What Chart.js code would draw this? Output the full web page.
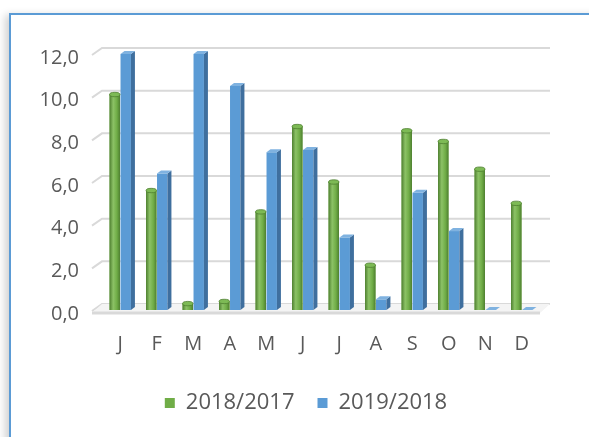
<!DOCTYPE html>
<html>
<head>
<meta charset="utf-8">
<script src="https://cdn.jsdelivr.net/npm/chart.js@4.4.1/dist/chart.umd.min.js"></script>
<style>
  html, body { margin: 0; padding: 0; background: #fff; width: 589px; height: 437px; overflow: hidden; }
  #frame { position: absolute; left: 9px; top: 13px; width: 700px; height: 600px;
           border-left: 2px solid #5B9BD5; border-top: 2px solid #5B9BD5;
           box-shadow: -6px 0 8px -2px rgba(0,0,0,0.18); }
  #wrap { position: absolute; left: 0; top: 0; width: 589px; height: 437px; }
</style>
</head>
<body>
<div id="frame"></div>
<div id="wrap"><canvas id="c" width="589" height="437"></canvas></div>
<script>
const categories = ['J','F','M','A','M','J','J','A','S','O','N','D'];
const series2018_2017 = [10.1, 5.6, 0.3, 0.4, 4.6, 8.6, 6.0, 2.1, 8.4, 7.9, 6.6, 5.0];
const series2019_2018 = [12.0, 6.4, 12.0, 10.5, 7.4, 7.5, 3.4, 0.5, 5.5, 3.7, 0.0, 0.0];
const seriesNames = ['2018/2017', '2019/2018'];
const yTicks = [0, 2, 4, 6, 8, 10, 12];

const GREEN = '#70AD47', GREEN_DARK = '#4E7F30', GREEN_LIGHT = '#8CC266';
const BLUE = '#5B9BD5', BLUE_SIDE = '#3F6F9E', BLUE_TOP = '#7FB2E0';
const GRID = '#D9D9D9';

const walls = {
  id: 'walls',
  beforeDatasetsDraw(chart) {
    const ctx = chart.ctx, a = chart.chartArea, ys = chart.scales.y;
    const back = 6, dx = 10;
    ctx.save();
    ctx.strokeStyle = GRID;
    ctx.lineWidth = 2;
    yTicks.forEach(v => {
      const y = ys.getPixelForValue(v) - back;
      ctx.beginPath();
      ctx.moveTo(a.left - dx, y + back + 1);
      ctx.lineTo(a.left, y);
      ctx.lineTo(a.right + dx, y);
      ctx.stroke();
    });
    const yb = ys.getPixelForValue(0);
    ctx.fillStyle = '#F4F4F4';
    ctx.beginPath();
    ctx.moveTo(a.left - dx, yb + 3);
    ctx.lineTo(a.left, yb - back);
    ctx.lineTo(a.right + dx, yb - back);
    ctx.lineTo(a.right, yb + 3);
    ctx.closePath();
    ctx.fill();
    ctx.lineWidth = 3;
    ctx.beginPath();
    ctx.moveTo(a.left - dx, yb + 3);
    ctx.lineTo(a.right, yb + 3);
    ctx.stroke();
    ctx.restore();
  }
};

const bar3d = {
  id: 'bar3d',
  afterDatasetsDraw(chart) {
    const ctx = chart.ctx;
    const d = 4, dy = 3;
    chart.data.datasets.forEach((ds, di) => {
      const meta = chart.getDatasetMeta(di);
      meta.data.forEach((el) => {
        const w = el.width, xl = el.x - w / 2, xr = el.x + w / 2;
        const top = el.y, base = el.base;
        ctx.save();
        if (di === 1) {
          ctx.fillStyle = BLUE_SIDE;
          ctx.beginPath();
          ctx.moveTo(xr, top); ctx.lineTo(xr + d, top - dy);
          ctx.lineTo(xr + d, base - dy); ctx.lineTo(xr, base);
          ctx.closePath(); ctx.fill();
          ctx.fillStyle = BLUE_TOP;
          ctx.beginPath();
          ctx.moveTo(xl, top); ctx.lineTo(xl + d, top - dy);
          ctx.lineTo(xr + d, top - dy); ctx.lineTo(xr, top);
          ctx.closePath(); ctx.fill();
        } else {
          const g = ctx.createLinearGradient(xl, 0, xr, 0);
          g.addColorStop(0, GREEN_DARK);
          g.addColorStop(0.35, GREEN_LIGHT);
          g.addColorStop(0.7, GREEN);
          g.addColorStop(1, GREEN_DARK);
          ctx.fillStyle = g;
          ctx.fillRect(xl, top, w, base - top);
          ctx.beginPath();
          ctx.ellipse(el.x, top, w / 2, 2.2, 0, 0, Math.PI * 2);
          ctx.fillStyle = '#7DBA55';
          ctx.fill();
          ctx.strokeStyle = GREEN_DARK; ctx.lineWidth = 0.8; ctx.stroke();
        }
        ctx.restore();
      });
    });
  }
};

// place the legend where the reference has it
const legendPlace = {
  id: 'legendPlace',
  beforeDraw(chart) {
    const lg = chart.legend;
    if (!lg) return;
    const h = lg.bottom - lg.top;
    lg.left = 23; lg.right = 589;
    lg.top = 369; lg.bottom = 369 + h;
  }
};

new Chart(document.getElementById('c'), {
  type: 'bar',
  data: {
    labels: categories,
    datasets: [
      { label: seriesNames[0], data: series2018_2017, backgroundColor: GREEN, borderWidth: 0 },
      { label: seriesNames[1], data: series2019_2018, backgroundColor: BLUE, borderWidth: 0 }
    ]
  },
  options: {
    responsive: false,
    animation: false,
    devicePixelRatio: 1,
    layout: { padding: { top: 54, right: 49, bottom: 2, left: 0 } },
    datasets: { bar: { categoryPercentage: 0.6, barPercentage: 0.95 } },
    scales: {
      x: {
        grid: { display: false, drawTicks: false },
        border: { display: false },
        ticks: { color: '#595959', font: { family: 'Open Sans', size: 20 }, padding: 22, maxRotation: 0 },
        afterFit(s) { s.height = 75; }
      },
      y: {
        min: 0, max: 12,
        afterBuildTicks(s) { s.ticks = yTicks.map(v => ({ value: v })); },
        grid: { display: false, drawTicks: false },
        border: { display: false },
        ticks: {
          color: '#595959', font: { family: 'Open Sans', size: 20 }, padding: 23, labelOffset: 4,
          callback: v => v.toFixed(1).replace('.', ',')
        },
        afterFit(s) { s.width = 102; }
      }
    },
    plugins: {
      legend: {
        position: 'bottom',
        maxHeight: 50,
        labels: { color: '#595959', font: { family: 'Open Sans', size: 22 }, boxWidth: 10, boxHeight: 10, padding: 23 }
      },
      tooltip: { enabled: false }
    }
  },
  plugins: [walls, bar3d, legendPlace]
});
</script>
</body>
</html>
